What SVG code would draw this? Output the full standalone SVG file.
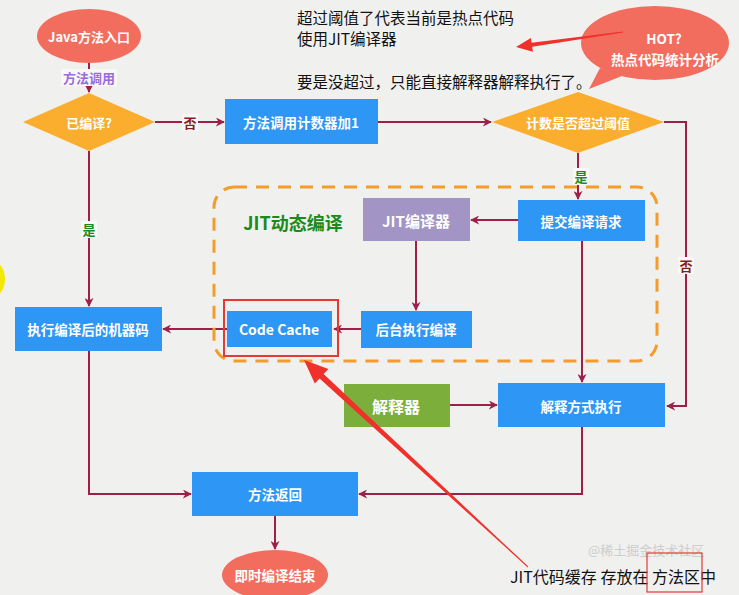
<svg xmlns="http://www.w3.org/2000/svg" width="739" height="595" viewBox="0 0 739 595">
<defs>
<marker id="ah" viewBox="0 0 10 10" refX="9" refY="5" markerWidth="9" markerHeight="9" markerUnits="userSpaceOnUse" orient="auto">
<path d="M0,0 L10,5 L0,10 L3,5 Z" fill="#9e1f4a"/>
</marker>
<style>
.bg{fill:#f0f0ef}
.blue{fill:#2e96f4}
.coral{fill:#f36d5f}
.dia{fill:#fbae2d}
.t{font-family:"Noto Sans CJK SC","Liberation Sans",sans-serif;font-weight:bold;fill:#fff;text-anchor:middle;dominant-baseline:central}
.c{fill:none;stroke:#9e1f4a;stroke-width:2}
.lblbg{fill:#f8f8f8}
.note{font-family:"Noto Sans CJK SC","Liberation Sans",sans-serif;fill:#111;font-size:15.5px}
.lbl{font-family:"Noto Sans CJK SC","Liberation Sans",sans-serif;font-weight:bold;font-size:13px;text-anchor:middle;dominant-baseline:central}
</style>
</defs>
<rect class="bg" x="0" y="0" width="739" height="595"/>
<ellipse cx="-6" cy="279" rx="11" ry="17" fill="#f2e80a"/>

<g id="connectors">
<path class="c" d="M89,63 V92" marker-end="url(#ah)"/>
<path class="c" d="M155,122 H224" marker-end="url(#ah)"/>
<path class="c" d="M378,122 H491" marker-end="url(#ah)"/>
<path class="c" d="M664,122 H686 V406 H667" marker-end="url(#ah)"/>
<path class="c" d="M578,153 V199" marker-end="url(#ah)"/>
<path class="c" d="M518,220 H471" marker-end="url(#ah)"/>
<path class="c" d="M416,241 V310" marker-end="url(#ah)"/>
<path class="c" d="M361,329 H334" marker-end="url(#ah)"/>
<path class="c" d="M227,329 H163" marker-end="url(#ah)"/>
<path class="c" d="M89,151 V306" marker-end="url(#ah)"/>
<path class="c" d="M582,241 V382" marker-end="url(#ah)"/>
<path class="c" d="M450,405 H497" marker-end="url(#ah)"/>
<path class="c" d="M582,427 V494 H359" marker-end="url(#ah)"/>
<path class="c" d="M89,351 V494 H191" marker-end="url(#ah)"/>
<path class="c" d="M275,516 V549" marker-end="url(#ah)"/>
<rect class="lblbg" x="61" y="69" width="56" height="17"/>
<text class="lbl" x="89" y="77" fill="#9b6bdd">方法调用</text>
<rect class="lblbg" x="182" y="114" width="16" height="17"/>
<text class="lbl" x="190" y="122" fill="#8b1a1a">否</text>
<rect class="lblbg" x="81" y="221" width="16" height="17"/>
<text class="lbl" x="89" y="229" fill="#1e8a1e">是</text>
<rect class="lblbg" x="573" y="168" width="16" height="17"/>
<text class="lbl" x="581" y="176" fill="#1e8a1e">是</text>
<rect class="lblbg" x="678" y="257" width="16" height="17"/>
<text class="lbl" x="686" y="265" fill="#8b1a1a">否</text>
</g>

<g id="jit-group">
<rect x="214" y="187" width="443" height="174" rx="20" fill="none" stroke="#f39c2a" stroke-width="3" stroke-dasharray="13,9"/>
<text x="293" y="222" font-family="Noto Sans CJK SC,Liberation Sans,sans-serif" font-weight="bold" font-size="18" fill="#1a8a1a" text-anchor="middle" dominant-baseline="central">JIT动态编译</text>
</g>

<g id="java-entry">
<ellipse class="coral" cx="89" cy="36" rx="52" ry="27"/>
<text class="t" x="89" y="36" font-size="13">Java方法入口</text>
</g>
<g id="compiled">
<polygon class="dia" points="89,93 155,122 89,151 23,122"/>
<text class="t" x="89" y="122" font-size="13">已编译?</text>
</g>
<g id="counter">
<rect class="blue" x="225" y="99" width="153" height="45"/>
<text class="t" x="301" y="122" font-size="13.5">方法调用计数器加1</text>
</g>
<g id="threshold">
<polygon class="dia" points="578,92 664,122 578,153 492,122"/>
<text class="t" x="578" y="122" font-size="13">计数是否超过阈值</text>
</g>
<g id="submit">
<rect class="blue" x="518" y="200" width="127" height="41"/>
<text class="t" x="581" y="221" font-size="13.5">提交编译请求</text>
</g>
<g id="jit-compiler">
<rect x="363" y="198" width="107" height="43" fill="#a294c4"/>
<text class="t" x="416" y="220" font-size="15">JIT编译器</text>
</g>
<g id="background-compile">
<rect class="blue" x="361" y="311" width="111" height="37"/>
<text class="t" x="416" y="329" font-size="13.5">后台执行编译</text>
</g>
<g id="code-cache">
<rect class="blue" x="227" y="311" width="105" height="36"/>
<text class="t" x="279" y="329" font-size="14">Code Cache</text>
<rect x="224" y="300" width="114" height="56" fill="none" stroke="#e53935" stroke-width="2"/>
</g>
<g id="machine-code">
<rect class="blue" x="15" y="307" width="147" height="44"/>
<text class="t" x="88" y="329" font-size="13.5">执行编译后的机器码</text>
</g>
<g id="interpreter">
<rect x="344" y="384" width="106" height="43" fill="#7cae3c"/>
<text class="t" x="396" y="406" font-size="16">解释器</text>
</g>
<g id="interpret-exec">
<rect class="blue" x="498" y="383" width="167" height="44"/>
<text class="t" x="581" y="406" font-size="13.5">解释方式执行</text>
</g>
<g id="method-return">
<rect class="blue" x="192" y="472" width="166" height="44"/>
<text class="t" x="275" y="494" font-size="13.5">方法返回</text>
</g>
<g id="end">
<ellipse class="coral" cx="275" cy="575" rx="53" ry="25"/>
<text class="t" x="275" y="575" font-size="13.5">即时编译结束</text>
</g>

<g id="hot">
<polygon class="coral" points="600,68 589,89 622,76"/>
<ellipse class="coral" cx="655" cy="43" rx="74" ry="37"/>
<text class="t" x="664" y="38" font-size="13.5">HOT?</text>
<text class="t" x="665" y="59" font-size="13.5">热点代码统计分析</text>
</g>

<g id="notes">
<text x="588" y="555" font-family="Noto Sans CJK SC,Liberation Sans,sans-serif" font-size="13" fill="#cdcdcd">@稀土掘金技术社区</text>
<text class="note" x="297" y="24">超过阈值了代表当前是热点代码</text>
<text class="note" x="297" y="45">使用JIT编译器</text>
<text class="note" x="297" y="88">要是没超过，只能直接解释器解释执行了。</text>
<text x="510" y="583" font-family="Noto Sans CJK SC,Liberation Sans,sans-serif" font-size="16" fill="#111" textLength="206" lengthAdjust="spacingAndGlyphs">JIT代码缓存 存放在 方法区中</text>
<rect x="647" y="553" width="55" height="39" fill="none" stroke="#e53935" stroke-width="1.2"/>
<polygon fill="#f0302a" points="516,47 530.9,37.9 531.6,42.8 622.9,31.5 623.1,32.5 532.2,46.8 532.9,51.7"/>
<polygon fill="#f0302a" points="304,360 328.4,369 323.6,374.1 528.3,566.6 527.7,567.4 319.6,378.5 314.8,383.6"/>
</g>
</svg>
